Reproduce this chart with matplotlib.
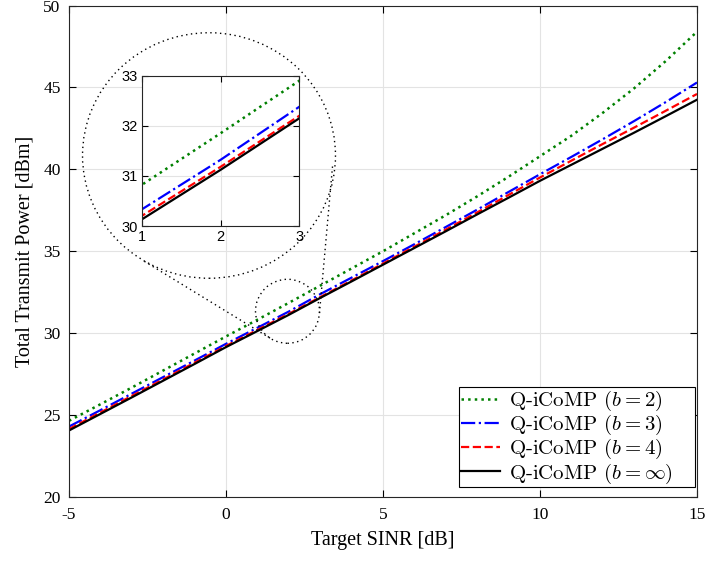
import numpy as np
import matplotlib
matplotlib.use("Agg")
import matplotlib.pyplot as plt
from matplotlib.patches import Ellipse
from matplotlib.lines import Line2D

plt.rcParams['font.family'] = ['Liberation Serif', 'DejaVu Serif']
plt.rcParams['mathtext.fontset'] = 'cm'

# -------------------------------------------------------
# Данные
# -------------------------------------------------------
sinr = np.arange(-5, 16)

p_b2 = [24.65, 25.66, 26.68, 27.72, 28.76, 29.80, 30.82, 31.85, 32.90, 33.95,
        35.00, 36.10, 37.20, 38.35, 39.55, 40.80, 42.05, 43.45, 44.95, 46.60, 48.40]
p_b3 = [24.30, 25.30, 26.31, 27.32, 28.33, 29.35, 30.33, 31.32, 32.38, 33.39,
        34.40, 35.43, 36.48, 37.54, 38.62, 39.70, 40.76, 41.84, 42.95, 44.10, 45.30]
p_b4 = [24.15, 25.16, 26.17, 27.18, 28.20, 29.22, 30.20, 31.18, 32.20, 33.22,
        34.25, 35.28, 36.32, 37.37, 38.44, 39.50, 40.53, 41.55, 42.55, 43.57, 44.60]
p_inf = [24.06, 25.07, 26.08, 27.10, 28.12, 29.15, 30.13, 31.12, 32.15, 33.16,
         34.18, 35.20, 36.22, 37.25, 38.27, 39.30, 40.28, 41.26, 42.24, 43.24, 44.25]

labels = [r'Q-iCoMP ($b=2$)', r'Q-iCoMP ($b=3$)',
          r'Q-iCoMP ($b=4$)', r'Q-iCoMP ($b=\infty$)']
series = [p_b2, p_b3, p_b4, p_inf]
styles = [dict(color=(0, 0.5, 0), ls=':', lw=1.8),
          dict(color='b', ls='-.', lw=1.6),
          dict(color='r', ls='--', lw=1.6),
          dict(color='k', ls='-', lw=1.6)]

# -------------------------------------------------------
# Фигура
# -------------------------------------------------------
W, H = 708, 563
fig = plt.figure(figsize=(W / 100, H / 100), dpi=100)


def px(x, y):
    """пиксели (от левого верхнего угла) -> доли фигуры"""
    return x / W, 1 - y / H


ax = fig.add_axes([69 / W, 1 - 497 / H, 628 / W, 491.5 / H])
for y, lab, st in zip(series, labels, styles):
    ax.plot(sinr, y, label=lab, **st)

ax.set_xlim(-5, 15)
ax.set_ylim(20, 50)
ax.set_xticks([-5, 0, 5, 10, 15])
ax.set_xticklabels(['-5', '0', '5', '10', '15'])
ax.set_yticks(np.arange(20, 51, 5))
ax.grid(True, color='#e3e3e3', lw=0.8)
ax.set_axisbelow(True)
ax.tick_params(direction='in', top=True, right=True, labelsize=12.5, length=5, width=0.8)
ax.tick_params(axis='x', pad=7)
ax.tick_params(axis='y', pad=6)
for s in ax.spines.values():
    s.set_color('#262626')
    s.set_linewidth(0.8)
ax.set_xlabel('Target SINR [dB]', fontsize=14.5, labelpad=6)
ax.set_ylabel('Total Transmit Power [dBm]', fontsize=14.5, labelpad=6)

# легенда растянута по ширине, как в MATLAB (пустое место справа)
leg = ax.legend(loc='lower right', bbox_to_anchor=(0.621, 0.02, 0.376, 0.3),
                mode='expand', prop={'family': 'cmr10', 'size': 15},
                fancybox=False, edgecolor='k', framealpha=1,
                borderaxespad=0.0, handlelength=1.9, handletextpad=0.4,
                labelspacing=0.0, borderpad=0.08)
leg.get_frame().set_linewidth(0.8)

# -------------------------------------------------------
# Лупа: большой и малый круги + касательные
# -------------------------------------------------------
c1, r1 = np.array([209.0, 155.5]), 124.0
c2, r2 = np.array([287.5, 311.3]), 32.0

big = Ellipse(px(*c1), 2 * r1 / W * 1.02, 2 * r1 / H * 0.99, transform=fig.transFigure,
              fill=False, ls=(0, (1, 2.5)), lw=1.0, color='k', zorder=2)
small = Ellipse(px(*c2), 2 * r2 / W, 2 * r2 / H, transform=fig.transFigure,
                fill=False, ls=(0, (1, 2.5)), lw=1.0, color='k', zorder=2)
fig.add_artist(big)
fig.add_artist(small)

d = c2 - c1
dist = np.hypot(*d)
base = np.arctan2(d[1], d[0])
off = np.arccos((r1 - r2) / dist)
for a in (base + off, base - off):
    n = np.array([np.cos(a), np.sin(a)])
    p1 = c1 + r1 * n
    p2 = c2 + r2 * n
    (x1, y1), (x2, y2) = px(*p1), px(*p2)
    fig.add_artist(Line2D([x1, x2], [y1, y2], transform=fig.transFigure,
                          ls=(0, (1, 2.5)), lw=1.0, color='k', zorder=2))

# -------------------------------------------------------
# Вставка (увеличение)
# -------------------------------------------------------
axin = fig.add_axes([141.7 / W, 1 - 226 / H, 157.6 / W, 150.3 / H], zorder=5)
for y, st in zip(series, styles):
    axin.plot(sinr, y, **st)
axin.set_xlim(1, 3)
axin.set_ylim(30, 33)
axin.set_xticks([1, 2, 3])
axin.set_yticks([30, 31, 32, 33])
axin.grid(True, color='#e3e3e3', lw=0.8)
axin.set_axisbelow(True)
axin.tick_params(direction='in', top=True, right=True, labelsize=10.5,
                 length=4, width=0.8, pad=3)
for lab in axin.get_xticklabels() + axin.get_yticklabels():
    lab.set_family('Liberation Sans')
for s in axin.spines.values():
    s.set_color('#262626')
    s.set_linewidth(0.8)

fig.savefig('out.png', dpi=100)
